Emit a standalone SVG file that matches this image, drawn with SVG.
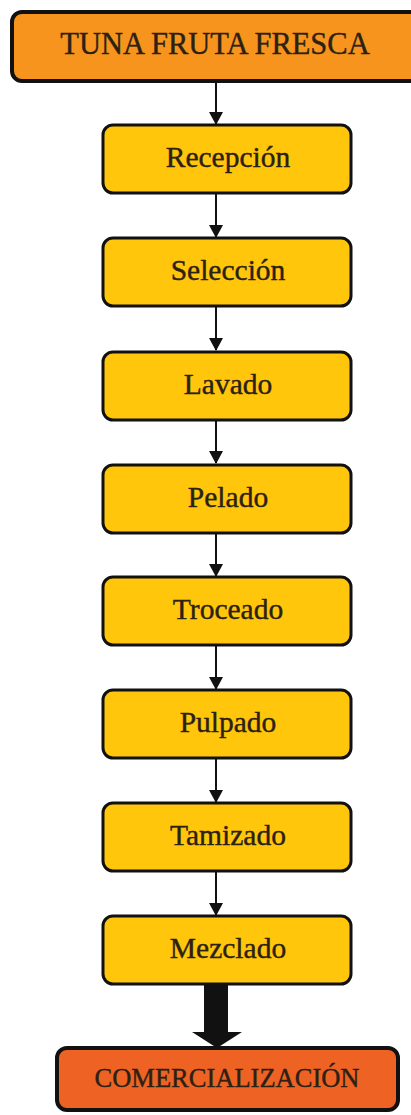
<svg xmlns="http://www.w3.org/2000/svg" width="411" height="1115" viewBox="0 0 411 1115">
<style>
.box{fill:#FFC60B;stroke:#111;stroke-width:3}
.lbl{font-family:"Liberation Serif","Times New Roman",serif;font-size:29.5px;fill:#2b2115;stroke:#2b2115;stroke-width:0.4;text-anchor:middle}
.con{stroke:#111;stroke-width:2;fill:none}
</style>
<defs>
<marker id="ah" markerWidth="14" markerHeight="14" refX="12" refY="7" orient="auto" markerUnits="userSpaceOnUse">
<path d="M0,0 L13,7 L0,14 Z" fill="#111"/>
</marker>
</defs>
<rect width="411" height="1115" fill="#fff"/>
<g id="connectors">
<line class="con" x1="216" y1="81" x2="216" y2="124" marker-end="url(#ah)"/>
<line class="con" x1="216" y1="193" x2="216" y2="237" marker-end="url(#ah)"/>
<line class="con" x1="216" y1="306" x2="216" y2="350" marker-end="url(#ah)"/>
<line class="con" x1="216" y1="419" x2="216" y2="463" marker-end="url(#ah)"/>
<line class="con" x1="216" y1="532" x2="216" y2="576" marker-end="url(#ah)"/>
<line class="con" x1="216" y1="645" x2="216" y2="689" marker-end="url(#ah)"/>
<line class="con" x1="216" y1="758" x2="216" y2="802" marker-end="url(#ah)"/>
<line class="con" x1="216" y1="871" x2="216" y2="915" marker-end="url(#ah)"/>
<path d="M204,984 L228,984 L228,1032 L242,1032 L217,1048 L192,1032 L204,1032 Z" fill="#111"/>
</g>
<g id="n0">
<rect x="12" y="12" width="414" height="69" rx="10" fill="#F7941D" stroke="#111" stroke-width="4"/>
<text class="lbl" x="215" y="54" style="font-size:30.5px">TUNA FRUTA FRESCA</text>
</g>
<g id="n1"><rect class="box" x="103" y="125" width="248" height="68" rx="10"/><text class="lbl" x="228" y="167">Recepción</text></g>
<g id="n2"><rect class="box" x="103" y="238" width="248" height="68" rx="10"/><text class="lbl" x="228" y="280">Selección</text></g>
<g id="n3"><rect class="box" x="103" y="352" width="248" height="68" rx="10"/><text class="lbl" x="228" y="394">Lavado</text></g>
<g id="n4"><rect class="box" x="103" y="465" width="248" height="68" rx="10"/><text class="lbl" x="228" y="507">Pelado</text></g>
<g id="n5"><rect class="box" x="103" y="577" width="248" height="68" rx="10"/><text class="lbl" x="228" y="619">Troceado</text></g>
<g id="n6"><rect class="box" x="103" y="690" width="248" height="68" rx="10"/><text class="lbl" x="228" y="732">Pulpado</text></g>
<g id="n7"><rect class="box" x="103" y="803" width="248" height="68" rx="10"/><text class="lbl" x="228" y="845">Tamizado</text></g>
<g id="n8"><rect class="box" x="103" y="916" width="248" height="68" rx="10"/><text class="lbl" x="228" y="958">Mezclado</text></g>
<g id="n9">
<rect x="57" y="1048" width="341" height="62" rx="10" fill="#EE6324" stroke="#111" stroke-width="4"/>
<text class="lbl" x="227" y="1087" style="font-size:26.5px">COMERCIALIZACIÓN</text>
</g>
</svg>
